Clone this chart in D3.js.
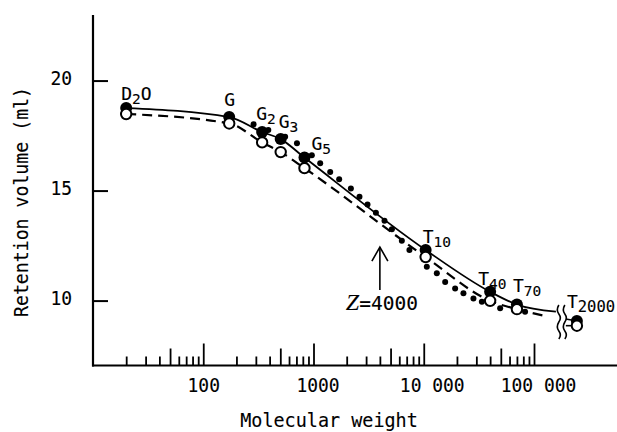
<!DOCTYPE html>
<html>
<head>
<meta charset="utf-8">
<script src="https://cdn.jsdelivr.net/npm/d3@7"></script>
<style>
  html, body { margin: 0; padding: 0; background: #fff; }
  svg { display: block; }
  text { font-family: "DejaVu Sans Mono", monospace; fill: #000; stroke: #000; stroke-width: 0.12px; }
</style>
</head>
<body>
<svg id="chart" width="617" height="432"></svg>
<script>
// ---------- data ----------
const compounds   = ["D2O", "G", "G2", "G3", "G5", "T10", "T40", "T70", "T2000"];
const labelMain   = ["D", "G", "G", "G", "G", "T", "T", "T", "T"];
const labelSub    = ["2", "", "2", "3", "5", "10", "40", "70", "2000"];
const labelTail   = ["O", "", "", "", "", "", "", "", ""];
const molWeight   = [20, 172, 342, 504, 828, 10400, 40000, 70000, 2000000];
const volFilled   = [18.75, 18.34, 17.66, 17.34, 16.50, 12.30, 10.40, 9.82, 9.07];
const volOpen     = [18.48, 18.05, 17.19, 16.75, 16.02, 11.98, 9.99, 9.61, 8.86];

// small dots (continuous elution profile)
const dotMW  = [286, 389, 553, 708, 966, 1150, 1417, 1709, 2183, 2612, 3090, 3681, 4406, 5140, 6327, 7413,
                10660, 13140, 15640, 19260, 22910, 28230, 33650, 49320, 82990];
const dotVol = [18.02, 17.75, 17.45, 17.15, 16.61, 16.24, 15.85, 15.52, 15.10, 14.72, 14.37, 13.99, 13.63, 13.24, 12.72, 12.30,
                11.54, 11.24, 10.85, 10.55, 10.33, 10.10, 9.95, 9.65, 9.49];

// curve end points before the axis break
const solidEnd  = { mw: 158000, vol: 9.50 };
const dashedEnd = { mw: 134000, vol: 9.27 };

// axis ticks
const majorTicks = [100, 1000, 10000, 100000];
const majorLabels = ["100", "1000", "10 000", "100 000"];
const midTicks = [50, 500, 5000, 50000];
const minorTicks = [20, 30, 40, 60, 70, 80, 90, 200, 300, 400, 600, 700, 800, 900,
                    2000, 3000, 4000, 6000, 7000, 8000, 9000, 20000, 30000, 40000, 60000, 70000, 80000, 90000];
const yTicks = [10, 15, 20];
const zMW = 4000;

const BREAK_MW = 200000;      // values above this are drawn past the axis break
const AFTER_BREAK_MW = 245000;
const BREAK_AT_MW = 168000;

// ---------- scales ----------
const svg = d3.select("#chart");
const x = d3.scaleLog().domain([10, 100000]).range([93, 534]);
const y = d3.scaleLinear().domain([7.05, 22.98]).range([365.5, 15]);
const xp = mw => mw > BREAK_MW ? x(AFTER_BREAK_MW) : x(mw);
const axisY = y(7.05);
const CH = 10.8; // character advance of the typewriter-like lettering

// ---------- axes ----------
svg.append("line").attr("x1", 92).attr("x2", 617).attr("y1", axisY).attr("y2", axisY)
  .attr("stroke", "#000").attr("stroke-width", 2.2);
svg.append("line").attr("x1", 93).attr("x2", 93).attr("y1", 15).attr("y2", axisY + 1)
  .attr("stroke", "#000").attr("stroke-width", 2.2);

function xAxisLayer(values, size, labels) {
  const ax = d3.axisBottom(x).tickValues(values).tickSize(-size).tickPadding(12)
    .tickFormat(labels ? (d, i) => labels[i] : "");
  const g = svg.append("g").attr("transform", `translate(0,${axisY})`).call(ax);
  g.select(".domain").remove();
  g.selectAll(".tick line").attr("stroke", "#000").attr("stroke-width", 1.8);
  g.selectAll(".tick text").style("font-family", "DejaVu Sans Mono, monospace").style("font-size", "20px")
    .attr("fill", "#000").attr("textLength", (d, i) => labels ? labels[i].length * CH : 0)
    .attr("lengthAdjust", "spacingAndGlyphs");
  return g;
}
xAxisLayer(minorTicks, 9);
xAxisLayer(midTicks, 17);
const majG = xAxisLayer(majorTicks, 22, majorLabels);
majG.selectAll(".tick text").attr("dx", (d, i) => [0, 4, 8, 4][i]);

const yAx = d3.axisLeft(y).tickValues(yTicks).tickSize(-15).tickPadding(21).tickFormat(d3.format("d"));
const yG = svg.append("g").attr("transform", "translate(93,0)").call(yAx);
yG.select(".domain").remove();
yG.selectAll(".tick line").attr("stroke", "#000").attr("stroke-width", 2);
yG.selectAll(".tick text").style("font-family", "DejaVu Sans Mono, monospace").style("font-size", "20px")
  .attr("fill", "#000").attr("dy", "0.22em").attr("textLength", 2 * CH).attr("lengthAdjust", "spacingAndGlyphs");

// axis titles
const xTitle = "Molecular weight";
svg.append("text").attr("x", 329).attr("y", 427).attr("text-anchor", "middle")
  .style("font-size", "20px").attr("textLength", xTitle.length * 11.1).attr("lengthAdjust", "spacingAndGlyphs").text(xTitle);
const yTitle = "Retention volume (ml)";
svg.append("text").attr("transform", "translate(28,202) rotate(-90)").attr("text-anchor", "middle")
  .style("font-size", "20px").attr("textLength", 230).attr("lengthAdjust", "spacingAndGlyphs").text(yTitle);

// ---------- curves ----------
const line = d3.line().x(d => xp(d[0])).y(d => y(d[1])).curve(d3.curveMonotoneX);
const solidPts = molWeight.map((m, i) => [m, volFilled[i]]).filter(d => d[0] <= BREAK_MW);
solidPts.push([solidEnd.mw, solidEnd.vol]);
const dashPts = molWeight.map((m, i) => [m, volOpen[i]]).filter(d => d[0] <= BREAK_MW);
dashPts.push([dashedEnd.mw, dashedEnd.vol]);

svg.append("path").attr("d", line(solidPts)).attr("fill", "none").attr("stroke", "#000").attr("stroke-width", 1.8);
svg.append("path").attr("d", line(dashPts)).attr("fill", "none").attr("stroke", "#000").attr("stroke-width", 2.2)
  .attr("stroke-dasharray", "10,6");

// axis break marks
const bx = x(BREAK_AT_MW);
[0, 6].forEach(off => {
  const x0 = bx + off, y0 = y(9.8);
  svg.append("path")
    .attr("d", `M${x0},${y0} q-3,5 0,9 q3,4 0,8 q-3,5 0,9 q3,4 0,8`)
    .attr("fill", "none").attr("stroke", "#000").attr("stroke-width", 1.6);
});
const lastI = molWeight.length - 1;
svg.append("line").attr("x1", bx + 7).attr("x2", xp(molWeight[lastI])).attr("y1", y(volFilled[lastI]) - 2).attr("y2", y(volFilled[lastI]))
  .attr("stroke", "#000").attr("stroke-width", 1.6);
svg.append("line").attr("x1", bx + 7).attr("x2", xp(molWeight[lastI])).attr("y1", y(volOpen[lastI])).attr("y2", y(volOpen[lastI]))
  .attr("stroke", "#000").attr("stroke-width", 1.6);

// ---------- points ----------
svg.append("g").selectAll("circle").data(dotMW).join("circle")
  .attr("cx", d => xp(d)).attr("cy", (d, i) => y(dotVol[i])).attr("r", 3).attr("fill", "#000");

svg.append("g").selectAll("circle").data(molWeight).join("circle")
  .attr("cx", d => xp(d)).attr("cy", (d, i) => y(volFilled[i])).attr("r", 6).attr("fill", "#000");

svg.append("g").selectAll("circle").data(molWeight).join("circle")
  .attr("cx", d => xp(d)).attr("cy", (d, i) => y(volOpen[i])).attr("r", 5.2)
  .attr("fill", "#fff").attr("stroke", "#000").attr("stroke-width", 2);

// ---------- labels ----------
const labelDx = [-5, -5, -6, -2, 7, -3, -12, -4, -10];
const labelDy = [-8, -11, -12, -11, -8, -7, -7, -13, -13];
compounds.forEach((c, i) => {
  const t = svg.append("text")
    .attr("x", xp(molWeight[i]) + labelDx[i])
    .attr("y", y(volFilled[i]) + labelDy[i])
    .style("font-size", "18px");
  t.append("tspan").text(labelMain[i]);
  if (labelSub[i]) t.append("tspan").attr("dy", 4).style("font-size", i === lastI ? "15.5px" : "14.5px").text(labelSub[i]);
  if (labelTail[i]) t.append("tspan").attr("dy", -4).text(labelTail[i]);
});

// ---------- Z = 4000 arrow ----------
const ax0 = x(zMW);
const tipY = y(12.43), baseY = y(10.48);
svg.append("line").attr("x1", ax0).attr("x2", ax0).attr("y1", tipY).attr("y2", baseY)
  .attr("stroke", "#000").attr("stroke-width", 1.6);
svg.append("path").attr("d", `M${ax0 - 8},${tipY + 14} L${ax0},${tipY} L${ax0 + 8},${tipY + 14}`)
  .attr("fill", "none").attr("stroke", "#000").attr("stroke-width", 1.6);
const zt = svg.append("text").attr("x", ax0 + 38).attr("y", y(10.48) + 20).attr("text-anchor", "end");
zt.append("tspan").style("font-family", "Liberation Serif, serif").style("font-style", "italic").style("font-size", "24px").text("Z");
zt.append("tspan").style("font-size", "19.5px").text("=" + zMW);
</script>
</body>
</html>
